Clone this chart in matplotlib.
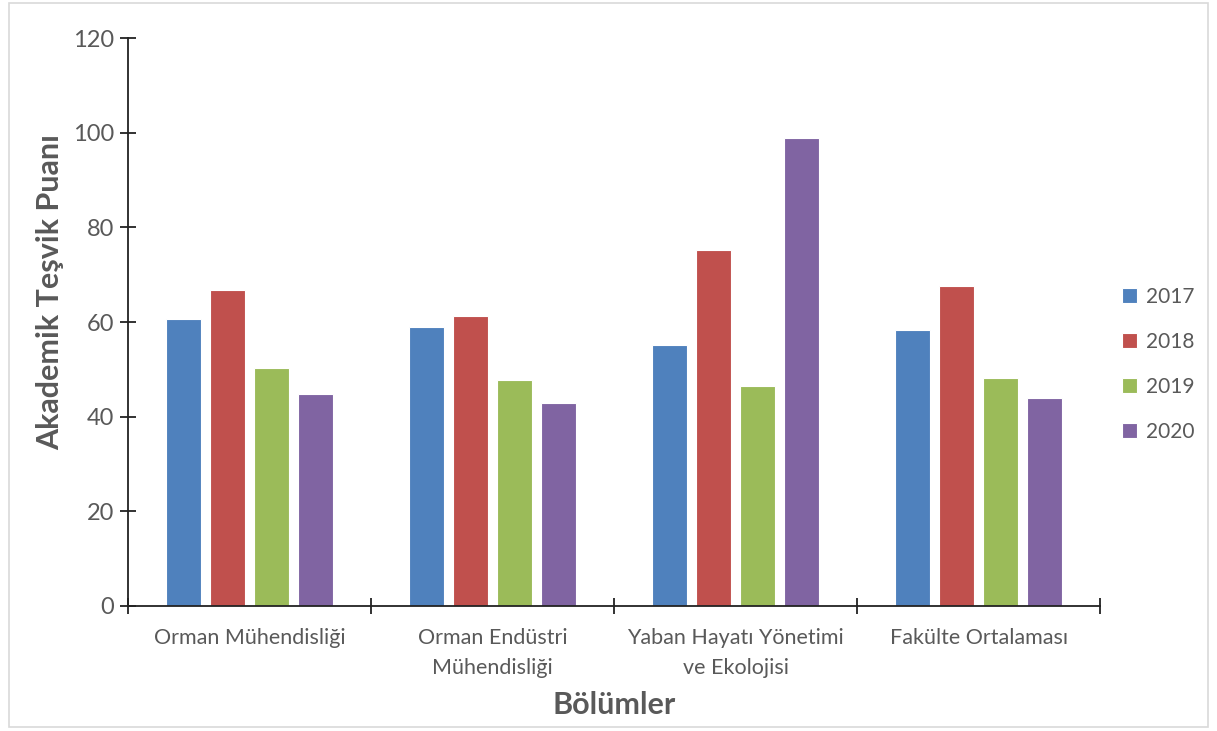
import numpy as np
import matplotlib
matplotlib.use("Agg")
import matplotlib.pyplot as plt
from matplotlib.patches import Rectangle

categories = ["Orman Mühendisliği", "Orman Endüstri\nMühendisliği",
              "Yaban Hayatı Yönetimi\nve Ekolojisi", "Fakülte Ortalaması"]
years = ["2017", "2018", "2019", "2020"]
v2017 = [60.6, 58.9, 55.1, 58.3]
v2018 = [66.7, 61.3, 75.2, 67.6]
v2019 = [50.3, 47.7, 46.5, 48.2]
v2020 = [44.8, 42.8, 98.9, 43.9]
colors = ["#4F81BD", "#C0504D", "#9BBB59", "#8064A2"]

plt.rcParams['font.family'] = ['Lato', 'DejaVu Sans']
text_col = "#595959"

fig = plt.figure(figsize=(12.17, 7.31), dpi=100)
ax = fig.add_axes([0.105, 0.171, 0.799, 0.777])

x = np.arange(len(categories))
width = 0.144
step = 0.181
series = [v2017, v2018, v2019, v2020]
for i, (vals, c, yr) in enumerate(zip(series, colors, years)):
    ax.bar(x + (i - 1.5) * step, vals, width, color=c, label=yr,
           edgecolor="white", linewidth=0.8)

ax.set_xlim(-0.5, len(categories) - 0.5)
ax.set_ylim(0, 120)
ax.set_yticks(range(0, 121, 20))
# major ticks at group boundaries, labels on minor ticks at group centres
ax.set_xticks(np.arange(-0.5, len(categories), 1.0))
ax.set_xticklabels([])
ax.set_xticks(x, minor=True)
ax.set_xticklabels(categories, minor=True, fontsize=15.5, color=text_col, linespacing=1.6)
ax.tick_params(axis='x', which='minor', length=0, pad=16)
ax.tick_params(axis='x', which='major', direction='inout', length=12, width=1.3, color="#222222")
ax.tick_params(axis='y', direction='inout', length=12, width=1.3, color="#222222",
               labelsize=17, labelcolor=text_col, pad=4)

for s in ['top', 'right']:
    ax.spines[s].set_visible(False)
for s in ['left', 'bottom']:
    ax.spines[s].set_linewidth(1.3)
    ax.spines[s].set_color("#222222")

fig.text(0.041, 0.600, "Akademik Teşvik Puanı", rotation=90, ha='center', va='center',
         fontsize=22, fontweight='bold', color=text_col)
fig.text(0.505, 0.036, "Bölümler", ha='center', va='center',
         fontsize=22, fontweight='bold', color=text_col)

leg = ax.legend(loc='center left', bbox_to_anchor=(1.003, 0.425), frameon=False,
                fontsize=15, labelcolor=text_col, handlelength=0.75, handleheight=0.75,
                handletextpad=0.4, labelspacing=1.2)

fig.patches.append(Rectangle((0.007, 0.006), 0.986, 0.99, transform=fig.transFigure,
                             fill=False, edgecolor="#D9D9D9", linewidth=1.2))

fig.savefig("out.png", dpi=100)
